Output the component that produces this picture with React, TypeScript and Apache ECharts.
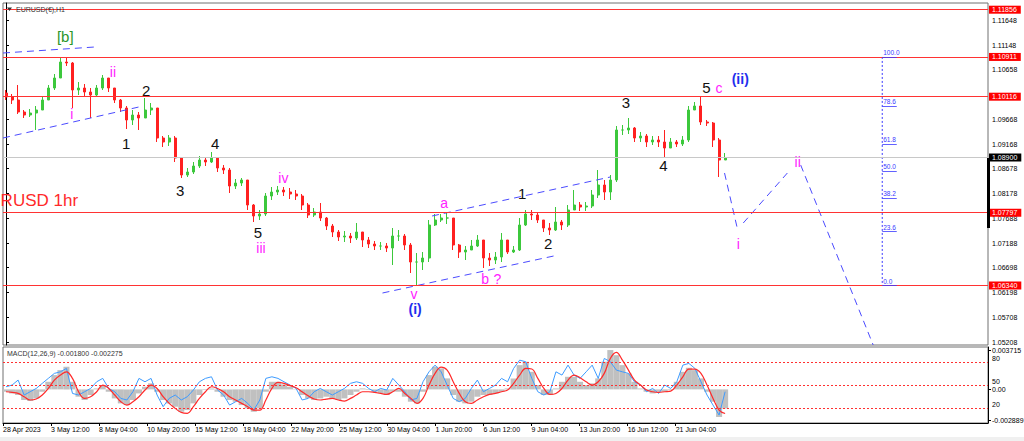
import React, { useEffect, useRef } from "react";
import * as echarts from "echarts";

// ---------- time axis ----------
const TICK_LABELS = [
  "28 Apr 2023", "3 May 12:00", "8 May 04:00", "10 May 20:00", "15 May 12:00",
  "18 May 04:00", "22 May 20:00", "25 May 12:00", "30 May 04:00", "1 Jun 20:00",
  "6 Jun 12:00", "9 Jun 04:00", "13 Jun 20:00", "16 Jun 12:00", "21 Jun 04:00",
];
const SLOT_COUNT = 163; // 8-hour candle slots across the chart width
const LABEL_SLOT_COUNT = 165;
const LABEL_EVERY = 8;

// ---------- price (8h candles) ----------
const FIRST_OPEN = 1.1019;
const CLOSE = [
  1.1011, 1.1005, 1.0981, 1.0975, 1.0979, 1.0985, 1.1005, 1.1029, 1.1049, 1.1081,
  1.1079, 1.1025, 1.1029, 1.1021, 1.1015, 1.1029, 1.1049, 1.1029, 1.1005, 1.0989,
  1.0965, 1.0975, 1.0969, 1.0985, 1.0989, 1.0929, 1.0921, 1.0929, 1.0889, 1.0855,
  1.0861, 1.0873, 1.0885, 1.0881, 1.0889, 1.0869, 1.0865, 1.0833, 1.0839, 1.0845,
  1.0795, 1.0773, 1.0777, 1.0813, 1.0821, 1.0825, 1.0821, 1.0817, 1.0813, 1.0795,
  1.0775, 1.0781, 1.0769, 1.0753, 1.0741, 1.0731, 1.0733, 1.0729, 1.0741, 1.0725,
  1.0717, 1.0713, 1.0713, 1.0709, 1.0733, 1.0733, 1.0715, 1.0681, 1.0681, 1.0689,
  1.0755, 1.0765, 1.0769, 1.0769, 1.0715, 1.0701, 1.0705, 1.0713, 1.0725, 1.0689,
  1.0685, 1.0691, 1.0725, 1.0701, 1.0705, 1.0755, 1.0777, 1.0775, 1.0765, 1.0749,
  1.0745, 1.0761, 1.0755, 1.0785, 1.0795, 1.0791, 1.0793, 1.0815, 1.0835, 1.0821,
  1.0845, 1.0945, 1.0945, 1.0949, 1.0929, 1.0933, 1.0921, 1.0925, 1.0921, 1.0909,
  1.0921, 1.0917, 1.0925, 1.0985, 1.0993, 1.0961, 1.0959, 1.0925, 1.0885, 1.0890,
];
const HIGH = [
  1.1025, 1.1017, 1.1035, 1.0985, 1.0987, 1.0993, 1.1011, 1.1035, 1.1057, 1.1089,
  1.1091, 1.1081, 1.1041, 1.1037, 1.1029, 1.1035, 1.1055, 1.1049, 1.1029, 1.1007,
  1.0993, 1.0985, 1.0981, 1.1009, 1.0999, 1.0985, 1.0933, 1.0935, 1.0933, 1.0889,
  1.0869, 1.0881, 1.0893, 1.0891, 1.0901, 1.0891, 1.0875, 1.0869, 1.0847, 1.0849,
  1.0845, 1.0797, 1.0785, 1.0819, 1.0831, 1.0833, 1.0831, 1.0829, 1.0825, 1.0817,
  1.0799, 1.0789, 1.0799, 1.0771, 1.0757, 1.0745, 1.0743, 1.0739, 1.0759, 1.0741,
  1.0731, 1.0723, 1.0721, 1.0719, 1.0749, 1.0745, 1.0737, 1.0719, 1.0699, 1.0701,
  1.0765, 1.0777, 1.0777, 1.0781, 1.0769, 1.0717, 1.0713, 1.0725, 1.0735, 1.0725,
  1.0699, 1.0701, 1.0739, 1.0725, 1.0713, 1.0769, 1.0785, 1.0785, 1.0781, 1.0765,
  1.0759, 1.0791, 1.0765, 1.0795, 1.0825, 1.0801, 1.0801, 1.0825, 1.0865, 1.0845,
  1.0855, 1.0953, 1.0955, 1.0969, 1.0951, 1.0941, 1.0937, 1.0933, 1.0933, 1.0945,
  1.0929, 1.0925, 1.0933, 1.0993, 1.1001, 1.1011, 1.0965, 1.0961, 1.0929, 1.0899,
];
const LOW = [
  1.1005, 1.0997, 1.0977, 1.0969, 1.0971, 1.0945, 1.0985, 1.1005, 1.1025, 1.1049,
  1.1073, 1.0989, 1.1015, 1.1011, 1.0969, 1.1013, 1.1025, 1.1021, 1.0999, 1.0981,
  1.0947, 1.0955, 1.0945, 1.0969, 1.0975, 1.0921, 1.0911, 1.0913, 1.0881, 1.0849,
  1.0851, 1.0857, 1.0869, 1.0873, 1.0879, 1.0861, 1.0857, 1.0819, 1.0827, 1.0833,
  1.0785, 1.0761, 1.0765, 1.0773, 1.0805, 1.0815, 1.0813, 1.0807, 1.0805, 1.0785,
  1.0769, 1.0771, 1.0763, 1.0745, 1.0731, 1.0723, 1.0721, 1.0719, 1.0725, 1.0711,
  1.0709, 1.0705, 1.0705, 1.0701, 1.0675, 1.0723, 1.0705, 1.0659, 1.0634, 1.0665,
  1.0681, 1.0753, 1.0761, 1.0757, 1.0705, 1.0689, 1.0685, 1.0705, 1.0711, 1.0669,
  1.0673, 1.0677, 1.0681, 1.0697, 1.0699, 1.0703, 1.0753, 1.0765, 1.0759, 1.0741,
  1.0735, 1.0743, 1.0745, 1.0751, 1.0785, 1.0783, 1.0783, 1.0789, 1.0809, 1.0805,
  1.0805, 1.0841, 1.0935, 1.0937, 1.0921, 1.0921, 1.0911, 1.0915, 1.0911, 1.0891,
  1.0911, 1.0911, 1.0913, 1.0921, 1.0985, 1.0955, 1.0953, 1.0911, 1.0851, 1.0885,
];

// ---------- indicator panel ----------
const MACD_MAIN = [
  -0.00022, -0.00038, -0.00053, -0.001, -0.0011, -0.00085, -0.00022, 0.00072, 0.00135, 0.00182,
  0.00214, 0.00072, -0.00069, -0.001, -0.00053, 0.00009, 0.00041, -0.00022, -0.00085, -0.00132,
  -0.00148, -0.001, -0.00038, 0.00025, 0.00057, -0.00022, -0.001, -0.00132, -0.00163, -0.0021,
  -0.00195, -0.00132, -0.00053, -0.00006, 0.00009, -0.00022, -0.00069, -0.001, -0.00116, -0.00148,
  -0.00179, -0.0021, -0.00179, -0.00022, 0.00072, 0.00072, 0.00047, 0.00025, 0.00003, -0.00053,
  -0.00085, -0.001, -0.00085, -0.00069, -0.00085, -0.001, -0.00085, -0.00053, -0.00022, 0.00009,
  -0.00006, -0.00022, -0.00038, -0.00053, -0.00022, -0.00022, -0.00069, -0.00116, -0.00132, -0.00022,
  0.00135, 0.00214, 0.00198, 0.00104, -0.00053, -0.00116, -0.00132, -0.00116, -0.00069, -0.00053,
  -0.00053, -0.00038, -0.00022, 0.00009, 0.00104, 0.00229, 0.00261, 0.00166, 0.00041, -0.00053,
  -0.00053, 0.00009, 0.00072, 0.00119, 0.00119, 0.00072, 0.00041, 0.00057, 0.00104, 0.00261,
  0.00371, 0.00323, 0.00229, 0.00151, 0.00072, 0.00009, -0.00022, -0.00038, -0.00022, -0.00022,
  -0.00006, 0.00072, 0.00166, 0.00204, 0.00182, 0.00104, -0.00022, -0.00116, -0.0026, -0.0018,
];
const MACD_SIGNAL = [
  -0.00022, -0.00028, -0.00038, -0.00069, -0.001, -0.00091, -0.00053, 0.00009, 0.00088, 0.00135,
  0.00166, 0.00104, -0.00022, -0.00085, -0.00069, -0.00022, 0.00041, 0.00009, -0.00053, -0.00116,
  -0.00148, -0.00116, -0.00069, -0.00006, 0.00041, 0.00009, -0.00069, -0.00132, -0.00179, -0.00217,
  -0.00226, -0.00163, -0.00085, -0.00022, 0.00025, 0.00009, -0.00022, -0.00069, -0.001, -0.00132,
  -0.00163, -0.00195, -0.00195, -0.001, 0.00009, 0.00066, 0.00057, 0.00035, 0.00016, -0.00022,
  -0.0006, -0.00091, -0.001, -0.00091, -0.00085, -0.001, -0.0011, -0.00085, -0.00053, -0.00022,
  -0.00022, -0.00028, -0.00038, -0.00047, -0.00022, 0.00009, -0.00038, -0.00085, -0.00132, -0.00085,
  0.00041, 0.00151, 0.0021, 0.00182, 0.00072, -0.00038, -0.00116, -0.00132, -0.001, -0.00069,
  -0.00047, -0.00038, -0.00022, -0.00006, 0.00057, 0.00135, 0.00198, 0.00192, 0.00104, 0.00009,
  -0.00047, -0.00038, 0.00009, 0.00088, 0.00135, 0.0011, 0.00072, 0.00041, 0.00072, 0.00151,
  0.00292, 0.00349, 0.00276, 0.00182, 0.00088, 0.00041, -0.00006, -0.00022, -0.00028, -0.00022,
  -0.00016, 0.00041, 0.00119, 0.00192, 0.00192, 0.00151, 0.00041, -0.00085, -0.00195, -0.002275,
];
const OSC_BLUE = [
  0.00025, 0.00041, 0.00088, -0.00053, -0.00022, 0.00009, 0.00057, 0.00104, 0.00151, 0.00166,
  0.00198, -0.00038, -0.00053, -0.00022, 0.00009, 0.00072, 0.00104, 0.00009, -0.00022, -0.00085,
  -0.001, -0.00022, 0.00104, 0.00072, 0.00104, -0.00053, -0.00163, -0.00085, -0.00053, -0.001,
  -0.00069, -0.00006, 0.00072, 0.00104, 0.00119, -0.00006, -0.00053, -0.00148, -0.00116, -0.00085,
  -0.00132, -0.00195, -0.001, 0.00104, 0.00119, 0.00104, 0.00072, 0.00041, 0.00009, -0.001,
  -0.00085, -0.00022, 0.00009, -0.00022, -0.00053, -0.00022, 0.00009, 0.00057, 0.00072, 0.00057,
  0.00009, -0.00022, 0.00009, -0.00006, 0.00104, 0.00041, -0.00022, -0.001, -0.00085, 0.00072,
  0.00166, 0.00229, 0.00166, 0.00041, -0.00085, -0.00116, -0.00085, 0.00009, 0.00088, -0.00022,
  0.00009, 0.00041, 0.00104, 0.00072, 0.00198, 0.00276, 0.00261, 0.00104, -0.00022, -0.00053,
  -0.00022, 0.00166, 0.00135, 0.00229, 0.00135, 0.00104, 0.00166, 0.00229, 0.00104, 0.00292,
  0.00261, 0.00182, 0.00166, 0.00151, 0.00072, 0.00041, -0.00022, 0.00009, -0.00038, 0.00041,
  0.00009, 0.00072, 0.00229, 0.00245, 0.00198, 0.00072, -0.00053, -0.00148, -0.00242, -0.00022,
];

// ---------- axes / levels ----------
const PRICE_MIN = 1.0515;
const PRICE_MAX = 1.1199;
const PRICE_TICKS = [
  1.11648, 1.11148, 1.10658, 1.09668, 1.09168, 1.08678, 1.08178, 1.07688,
  1.07188, 1.06698, 1.06198, 1.05708, 1.05208,
];
const RED_LEVELS = [1.11856, 1.10911, 1.10116, 1.07797, 1.0634];
const LAST_PRICE = 1.089;
const MACD_MIN = -0.00317;
const MACD_MAX = 0.004;
const MACD_TICKS = [0.003715, 0, -0.002889];
const OSC_MIN = 0.5;
const OSC_MAX = 99.6;
const OSC_LEVELS = [80, 50, 20];

// Fibonacci retracement (0 at the low, 100 at the [b] high)
const FIB_LEVELS = [100, 78.6, 61.8, 50, 38.2, 23.6, 0];
const FIB_LOW = 1.0634;
const FIB_HIGH = 1.10911;
const FIB_SLOT = 145;
const FIB_SLOT_END = 147.4;

// trend / channel lines [slot, price]
const TREND_LINES: number[][][] = [
  [[-0.5, 1.1099], [14.7, 1.1111]],
  [[-0.5, 1.0929], [22.7, 1.0993]],
  [[62.3, 1.0619], [91.4, 1.0695]],
  [[70.5, 1.0773], [100, 1.0851]],
];
// projected path
const PROJECTION: number[][][] = [
  [[118.9, 1.0859], [121, 1.0749]],
  [[122, 1.0759], [129.3, 1.0859]],
  [[131.5, 1.0875], [143.5, 1.0515]],
];

// wave labels [slot, price, text, degree]
const WAVE_LABELS: [number, number, string, string][] = [
  [9.8, 1.1133, "[b]", "b"],
  [10.9, 1.0977, "i", "sub"],
  [17.7, 1.1061, "ii", "sub"],
  [19.9, 1.0919, "1", "minor"],
  [23.2, 1.1025, "2", "minor"],
  [28.8, 1.0825, "3", "minor"],
  [34.6, 1.0919, "4", "minor"],
  [41.7, 1.0741, "5", "minor"],
  [42.2, 1.0709, "iii", "sub"],
  [45.9, 1.0849, "iv", "sub"],
  [67.5, 1.0617, "v", "sub"],
  [67.7, 1.0587, "(i)", "major"],
  [72.5, 1.0799, "a", "sub"],
  [79.3, 1.0647, "b", "sub"],
  [81.3, 1.0647, "?", "sub"],
  [85.4, 1.0819, "1", "minor"],
  [89.7, 1.0719, "2", "minor"],
  [102.6, 1.1001, "3", "minor"],
  [108.8, 1.0875, "4", "minor"],
  [115.9, 1.1031, "5", "minor"],
  [118.0, 1.1029, "c", "sub"],
  [121.5, 1.1047, "(ii)", "major"],
  [121.2, 1.0717, "i", "sub"],
  [131.0, 1.0881, "ii", "sub"],
];

const WAVE_COLORS: Record<string, string> = {
  minor: "#111111",
  sub: "#ff22ff",
  major: "#1f2fee",
  b: "#2a962a",
};
const WAVE_SIZES: Record<string, number> = { minor: 15, sub: 14, major: 14, b: 15 };

const FONT = "Liberation Sans, Arial, sans-serif";
const UP = "#3cc83c";
const DOWN = "#ff2020";
const LINE_RED = "#ff3333";
const DASH_BLUE = "#4b4bff";
const FIB_BLUE = "#3a3aff";

export default function App() {
  const ref = useRef<HTMLDivElement>(null);

  useEffect(() => {
    if (!ref.current) return;
    const chart = echarts.init(ref.current, null, { renderer: "svg" });

    const slots = Array.from({ length: SLOT_COUNT }, (_, i) => String(i));
    const labelSlots = Array.from({ length: LABEL_SLOT_COUNT }, (_, i) =>
      i % LABEL_EVERY === 0 && TICK_LABELS[i / LABEL_EVERY] ? TICK_LABELS[i / LABEL_EVERY] : "t" + i
    );
    const labelSet = new Set(TICK_LABELS);
    const showTick = (index: number) =>
      index % LABEL_EVERY === 0 && index / LABEL_EVERY < TICK_LABELS.length;

    const candles = CLOSE.map((c, i) => {
      const o = i === 0 ? FIRST_OPEN : CLOSE[i - 1];
      return [o, c, Math.min(LOW[i], o, c), Math.max(HIGH[i], o, c)];
    });

    const lineSeg = (seg: number[][], color: string, type: any) => ({
      type: "line",
      xAxisIndex: 2,
      yAxisIndex: 0,
      data: seg,
      symbol: "none",
      silent: true,
      lineStyle: { color, width: 1, type },
      z: 4,
    });

    const option: any = {
      animation: false,
      backgroundColor: "#ffffff",
      grid: [
        { left: 3, top: 3, width: 985, height: 342, show: true, borderColor: "#707070", borderWidth: 1, backgroundColor: "#fff", outerBoundsMode: "none" },
        { left: 3, top: 347, width: 985, height: 76, show: true, borderColor: "#707070", borderWidth: 1, backgroundColor: "#fff", outerBoundsMode: "none" },
      ],
      xAxis: [
        { type: "category", gridIndex: 0, data: slots, boundaryGap: true, show: false },
        { type: "category", gridIndex: 1, data: slots, boundaryGap: true, show: false },
        { type: "value", gridIndex: 0, min: -0.5, max: SLOT_COUNT - 0.5, show: false },
        {
          type: "category",
          gridIndex: 1,
          data: labelSlots,
          boundaryGap: false,
          position: "bottom",
          axisLine: { show: true, lineStyle: { color: "#000", width: 1 } },
          axisTick: { show: true, interval: showTick, length: 3, lineStyle: { color: "#000" } },
          axisLabel: {
            interval: showTick,
            formatter: (v: string) => (labelSet.has(v) ? v : ""),
            align: "left",
            fontSize: 7,
            color: "#000",
            margin: 3,
            fontFamily: FONT,
          },
          splitLine: { show: false },
        },
      ],
      yAxis: [
        {
          type: "value",
          gridIndex: 0,
          position: "right",
          min: PRICE_MIN,
          max: PRICE_MAX,
          splitLine: { show: false },
          axisLine: { show: true, lineStyle: { color: "#000" } },
          axisTick: { show: true, customValues: PRICE_TICKS, length: 3, lineStyle: { color: "#000" } },
          axisLabel: {
            customValues: PRICE_TICKS,
            formatter: (v: number) => v.toFixed(5),
            fontSize: 7,
            color: "#000",
            margin: 4,
            fontFamily: FONT,
          },
        },
        {
          type: "value",
          gridIndex: 1,
          position: "right",
          min: MACD_MIN,
          max: MACD_MAX,
          splitLine: { show: false },
          axisLine: { show: true, lineStyle: { color: "#000" } },
          axisTick: { show: true, customValues: MACD_TICKS, length: 3, lineStyle: { color: "#000" } },
          axisLabel: {
            customValues: MACD_TICKS,
            formatter: (v: number) => (v === 0 ? "0.00" : String(v)),
            fontSize: 7,
            color: "#000",
            margin: 4,
            fontFamily: FONT,
          },
        },
        {
          type: "value",
          gridIndex: 1,
          position: "right",
          min: OSC_MIN,
          max: OSC_MAX,
          splitLine: { show: false },
          axisLine: { show: false },
          axisTick: { show: false },
          axisLabel: {
            customValues: OSC_LEVELS,
            formatter: (v: number) => String(v),
            fontSize: 7,
            color: "#000",
            margin: 4,
            verticalAlign: "bottom",
            fontFamily: FONT,
          },
        },
      ],
      series: [
        {
          type: "candlestick",
          xAxisIndex: 0,
          yAxisIndex: 0,
          data: candles,
          barMaxWidth: 2.5,
          itemStyle: { color: UP, color0: DOWN, borderColor: UP, borderColor0: DOWN, borderWidth: 1 },
          silent: true,
          z: 3,
          markLine: {
            silent: true,
            precision: 5,
            symbol: ["none", "none"],
            animation: false,
            lineStyle: { type: "solid", width: 1 },
            label: {
              show: true,
              position: "end",
              formatter: (p: any) => Number(p.value).toFixed(5),
              color: "#fff",
              fontSize: 7,
              fontFamily: FONT,
              padding: [1, 4, 0, 3],
              distance: 1,
            },
            data: [
              ...RED_LEVELS.map((v) => ({
                yAxis: v,
                lineStyle: { color: LINE_RED },
                label: { backgroundColor: "#ff0000" },
              })),
              { yAxis: LAST_PRICE, lineStyle: { color: "#c8c8c8" }, label: { backgroundColor: "#000" } },
            ],
          },
        },
        ...TREND_LINES.map((s) => lineSeg(s, DASH_BLUE, [7, 5])),
        ...PROJECTION.map((s) => lineSeg(s, DASH_BLUE, [7, 5])),
        {
          type: "line",
          xAxisIndex: 2,
          yAxisIndex: 0,
          data: [
            [FIB_SLOT, FIB_HIGH],
            [FIB_SLOT, FIB_LOW],
          ],
          symbol: "none",
          silent: true,
          lineStyle: { color: FIB_BLUE, width: 1, type: [2, 2] },
          markLine: {
            silent: true,
            precision: 5,
            symbol: ["none", "none"],
            animation: false,
            lineStyle: { color: FIB_BLUE, type: "solid", width: 0.8 },
            label: {
              show: true,
              position: "insideStartTop",
              formatter: "{b}",
              color: FIB_BLUE,
              fontSize: 6.5,
              fontFamily: FONT,
              distance: 1,
            },
            data: FIB_LEVELS.map((l) => {
              const p = FIB_LOW + (l / 100) * (FIB_HIGH - FIB_LOW);
              return [
                { coord: [FIB_SLOT, p], name: l.toFixed(1) },
                { coord: [FIB_SLOT_END, p] },
              ];
            }),
          },
        },
        {
          type: "scatter",
          xAxisIndex: 2,
          yAxisIndex: 0,
          symbol: "circle",
          symbolSize: 1,
          itemStyle: { color: "rgba(0,0,0,0)", opacity: 1 },
          silent: true,
          z: 10,
          label: { show: true, position: "inside", formatter: "{b}", fontFamily: FONT, textBorderWidth: 0 },
          data: WAVE_LABELS.map(([s, p, t, k]) => ({
            value: [s, p],
            name: t,
            label: { color: WAVE_COLORS[k], fontSize: WAVE_SIZES[k], fontWeight: k === "major" ? "bold" : "normal" },
          })),
        },
        {
          type: "bar",
          xAxisIndex: 1,
          yAxisIndex: 1,
          data: MACD_MAIN,
          barCategoryGap: "0%",
          itemStyle: { color: "#c0c0c0" },
          silent: true,
        },
        {
          type: "line",
          xAxisIndex: 1,
          yAxisIndex: 1,
          data: OSC_BLUE,
          symbol: "none",
          silent: true,
          lineStyle: { color: "#3d9bff", width: 1 },
        },
        {
          type: "line",
          xAxisIndex: 1,
          yAxisIndex: 1,
          data: MACD_SIGNAL,
          symbol: "none",
          smooth: 0.4,
          silent: true,
          lineStyle: { color: "#ff2a2a", width: 1.2 },
        },
        {
          type: "line",
          xAxisIndex: 1,
          yAxisIndex: 2,
          data: [],
          symbol: "none",
          silent: true,
          markLine: {
            silent: true,
            symbol: ["none", "none"],
            animation: false,
            label: { show: false },
            lineStyle: { color: "#ff3030", type: [2, 2], width: 1 },
            data: OSC_LEVELS.map((v) => ({ yAxis: v })),
          },
        },
      ],
      graphic: [
        { type: "rect", shape: { x: 0, y: 437, width: 1024, height: 4 }, style: { fill: "#f0f0f0" }, silent: true },
        { type: "rect", shape: { x: 987, y: 158, width: 3, height: 70 }, style: { fill: "#000" }, silent: true, z: 20 },
        { type: "polygon", shape: { points: [[7, 7.5], [12, 7.5], [9.5, 11]] }, style: { fill: "#333" }, silent: true, z: 20 },
        {
          type: "text",
          x: 16,
          y: 9.5,
          z: 20,
          silent: true,
          style: { text: "EURUSD(€),H1", fontSize: 7, fill: "#333", verticalAlign: "middle", fontFamily: FONT },
        },
        {
          type: "text",
          x: 7,
          y: 353,
          z: 20,
          silent: true,
          style: {
            text: `MACD(12,26,9) ${MACD_MAIN[MACD_MAIN.length - 1].toFixed(6)} ${MACD_SIGNAL[MACD_SIGNAL.length - 1].toFixed(6)}`,
            fontSize: 7,
            fill: "#333",
            verticalAlign: "middle",
            fontFamily: FONT,
          },
        },
        {
          type: "text",
          x: -23,
          y: 200,
          z: 20,
          silent: true,
          style: { text: "EURUSD 1hr", fontSize: 17, fill: "#ff2a2a", verticalAlign: "middle", fontFamily: FONT },
        },
      ],
    };

    chart.setOption(option);
    return () => chart.dispose();
  }, []);

  return (
    <div
      ref={ref}
      style={{ position: "fixed", left: 0, top: 0, width: 1024, height: 441, background: "#fff" }}
    />
  );
}
